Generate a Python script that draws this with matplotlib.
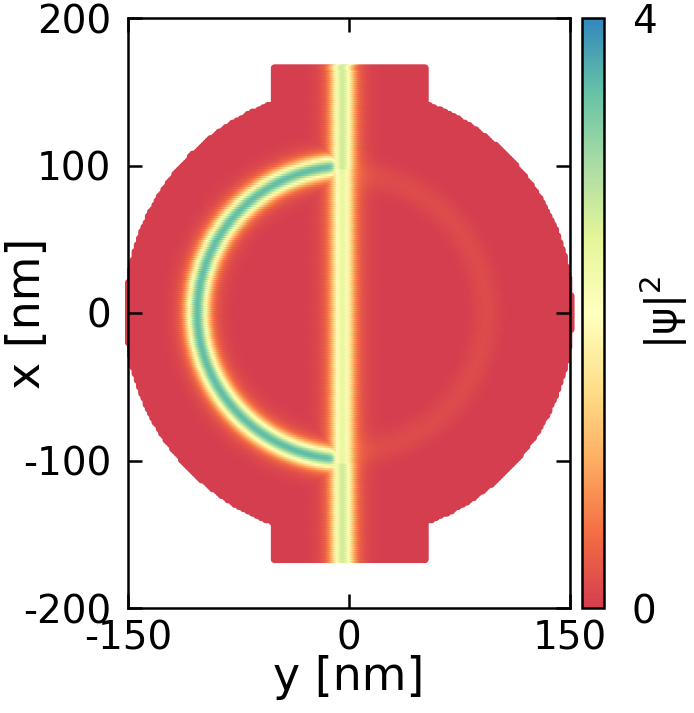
#!/usr/bin/env python3

import numpy as np
import matplotlib.pyplot as plt
from matplotlib.colors import LinearSegmentedColormap

plt.rcParams['font.family'] = 'DejaVu Sans'
plt.rcParams['axes.unicode_minus'] = False

# device geometry [nm]
disk_radius = 151.0
lead_half_width = 51.5
lead_end = 167.0
grid_step = 1.5

# |psi|^2 features
channel_center = -3.5      # position of the vertical channel (y, nm)
channel_sigma = 5.0
channel_peak_lead = 2.2
channel_peak_disk = 1.9
channel_halo = 0.5
channel_halo_sigma = 10.0
ring_center_x = 2.0
ring_radius_x = 99.5       # along vertical axis (x)
ring_radius_y = 102.0      # along horizontal axis (y)
ring_sigma = 4.8
ring_peak = 3.0
ring_halo = 0.55
ring_halo_sigma = 9.5
ring_right_radius = 94.0
ring_right_sigma = 7.0
ring_right_peak = 0.15

x_ticks = [-200, -100, 0, 100, 200]
y_ticks = [-150, 0, 150]
cbar_ticks = [0, 4]
spectral9 = ['#d53e4f', '#f46d43', '#fdae61', '#fee08b', '#ffffbf',
             '#e6f598', '#abdda4', '#66c2a5', '#3288bd']

cmap = LinearSegmentedColormap.from_list('spec9', spectral9)

# lattice points of the device
yy, xx = np.meshgrid(np.arange(-disk_radius, disk_radius + 0.01, grid_step),
                     np.arange(-lead_end, lead_end + 0.01, grid_step))
yy = yy.ravel()
xx = xx.ravel()
in_disk = xx**2 + yy**2 <= disk_radius**2
in_lead = (np.abs(yy) <= lead_half_width) & (np.abs(xx) <= lead_end)
keep = in_disk | in_lead
yy, xx, in_disk = yy[keep], xx[keep], in_disk[keep]

# density: straight channel + half ring on the left + faint ring on the right
chan_peak = np.where(in_disk & (np.abs(xx) < 100), channel_peak_disk, channel_peak_lead)
dy = yy - channel_center
chan = (chan_peak * np.exp(-0.5 * (dy / channel_sigma)**2)
        + channel_halo * np.exp(-0.5 * (dy / channel_halo_sigma)**2))

r_ell = np.sqrt(((xx - ring_center_x) / ring_radius_x)**2 + (yy / ring_radius_y)**2)
d_ring = (r_ell - 1.0) * 100.0
left_side = 0.5 * (1 - np.tanh((yy - channel_center + 4) / 2.5))
ring = (ring_peak * np.exp(-0.5 * (d_ring / ring_sigma)**2)
        + ring_halo * np.exp(-0.5 * (d_ring / ring_halo_sigma)**2)) * left_side

r_right = np.sqrt((xx - ring_center_x)**2 + yy**2)
right_side = 0.5 * (1 + np.tanh((yy - channel_center - 10) / 3.0))
faint = ring_right_peak * np.exp(-0.5 * ((r_right - ring_right_radius) / ring_right_sigma)**2) * right_side

dens = np.maximum(chan, ring) + faint

fig = plt.figure(figsize=(6.94, 7.13), dpi=100)
ax = fig.add_axes([128 / 694, 105 / 713, 442 / 694, 590 / 713])

sc = ax.scatter(yy, xx, c=dens, cmap=cmap, vmin=0, vmax=4, s=30,
                marker='o', linewidths=0, clip_on=False, zorder=1)

ax.set_xlim(-150, 150)
ax.set_ylim(-200, 200)
ax.set_xticks(y_ticks)
ax.set_yticks(x_ticks)
for sp in ax.spines.values():
    sp.set_linewidth(1.8)
    sp.set_zorder(3)
ax.tick_params(direction='in', length=10, width=1.8, top=True, right=True,
               labelsize=28)
ax.tick_params(axis='x', pad=8)
ax.tick_params(axis='y', pad=12)

ax.set_xlabel('y [nm]', fontsize=33)
ax.set_ylabel('x [nm]', fontsize=33)
ax.xaxis.set_label_coords(0.5, -0.08)
ax.yaxis.set_label_coords(-0.176, 0.5)

cax = fig.add_axes([582 / 694, 105 / 713, 22 / 694, 590 / 713])
cb = fig.colorbar(sc, cax=cax, ticks=cbar_ticks)
cb.outline.set_linewidth(1.8)
cax.tick_params(length=0, labelsize=28, pad=20)
fig.text(664 / 694, 1 - 312 / 713, '|ψ|$^2$', fontsize=30, rotation=90,
         ha='center', va='center')

fig.savefig('out.png', dpi=100)
